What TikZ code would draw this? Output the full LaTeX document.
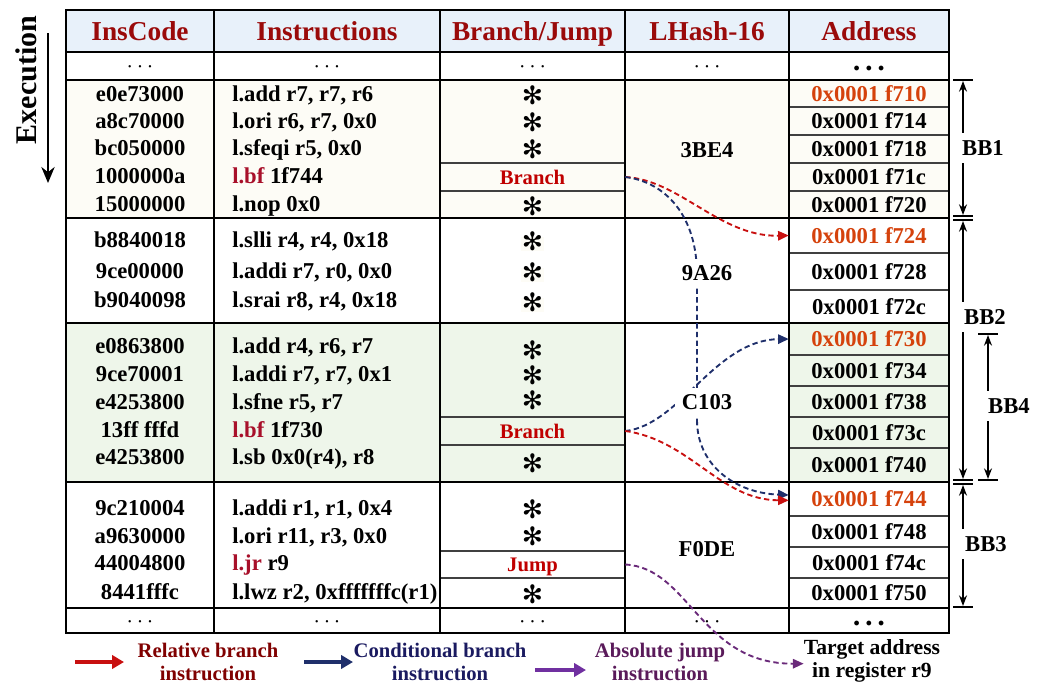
\documentclass[tikz,border=0pt]{standalone}
\usepackage{fontspec}
\setmainfont{Liberation Serif}
\newfontfamily\symfont{DejaVu Sans}
\usetikzlibrary{arrows.meta}
\definecolor{hdrbg}{HTML}{E8F1FA}
\definecolor{creambg}{HTML}{FDFCF6}
\definecolor{greenbg}{HTML}{EEF6EA}
\definecolor{hdrred}{HTML}{9A0A0A}
\definecolor{brred}{HTML}{C00000}
\definecolor{insred}{HTML}{A8102A}
\definecolor{addrorange}{HTML}{D5420C}
\definecolor{arrred}{HTML}{C81010}
\definecolor{arrblue}{HTML}{1F2F6B}
\definecolor{arrpurple}{HTML}{6A2A7A}
\definecolor{legred}{HTML}{800000}
\definecolor{legblue}{HTML}{1A1A60}
\definecolor{legpurple}{HTML}{5A1A5A}
\definecolor{legpurplearr}{HTML}{7030A0}
\definecolor{gridgray}{HTML}{404040}
\newcommand\bodyf{\fontsize{17}{20}\selectfont\bfseries}
\newcommand\hdrf{\fontsize{20.5}{24}\selectfont\bfseries}
\newcommand\legf{\fontsize{15.5}{17.3}\selectfont\bfseries}
\newcommand\tgtf{\fontsize{16.2}{17.3}\selectfont\bfseries}
\newcommand\brf{\fontsize{15.5}{18}\selectfont\bfseries}
\newcommand\execf{\fontsize{22.5}{26}\selectfont\bfseries}
\newcommand\myast{✻}
\newcommand\addrnode[5]{\pgfmathsetmacro\ah{(#3-#2)*0.75}\node[addr, minimum height=\ah pt, text=#4] (#1) at (869,{(#2+#3)/2}) {#5};}
\begin{document}
\begin{tikzpicture}[x=0.75pt,y=-0.75pt,
  txt/.style={font=\bodyf, inner sep=0pt, text height=11.5pt, text depth=0pt},
  hdr/.style={font=\hdrf, text=hdrred, inner sep=0pt, text height=13.8pt, text depth=0pt},
  ins/.style={txt, anchor=west},
  ast/.style={inner sep=0.5pt, font=\symfont\fontsize{19}{19}\selectfont, text height=10pt, text depth=0pt, yshift=-3pt},
  addr/.style={font=\bodyf, inner sep=0pt, text height=11.5pt, text depth=0pt, minimum width=120pt},
  brcell/.style={font=\brf, text=brred, inner sep=0pt, text height=10.5pt, text depth=0pt, minimum width=138.75pt},
  hash/.style={font=\bodyf, inner sep=0pt, text height=11.5pt, text depth=0pt},
  gridk/.style={line width=1.5pt, black},
  gridg/.style={line width=1.1pt, gridgray},
  dts/.style={inner sep=0pt, font=\bodyf, text height=3pt, text depth=0pt},
  bblab/.style={font=\bodyf, inner xsep=0pt, inner ysep=5.6pt, text height=11pt, text depth=0pt},
  bbarr/.style={line width=1pt, -{Stealth[length=8pt,width=6pt]}},
  tick/.style={line width=1pt},
  flow/.style={dashed, dash pattern=on 4pt off 2.5pt, line width=1.4pt, -{Triangle[length=8pt,width=7pt]}},
  leg/.style={line width=2.4pt, -{Triangle[length=9pt,width=10pt]}},
  legtext/.style={font=\legf, align=center, inner sep=0pt}
]
\useasboundingbox (0,0) rectangle (1046,686);

% backgrounds
\fill[hdrbg] (66,10) rectangle (949,52);
\fill[creambg] (66,80) rectangle (949,218);
\fill[greenbg] (66,323) rectangle (625,482);
\fill[greenbg] (789,323) rectangle (949,482);

% thin grid lines (address cells)
\foreach \yy in {107,135,163,191,253,290,355,386,417,448,516,547,578}
  \draw[gridg] (789,\yy) -- (949,\yy);
\foreach \yy in {163,191,417,445,551,578}
  \draw[gridg] (440,\yy) -- (625,\yy);

% thick grid lines
\foreach \yy in {52,80,218,323,482,608}
  \draw[gridk] (66,\yy) -- (949,\yy);
\foreach \xx in {214,440,625,789}
  \draw[gridk] (\xx,10) -- (\xx,633);
\draw[gridk] (66,10) rectangle (949,633);

% header
\node[hdr] (h1) at (140,31) {InsCode};
\node[hdr] (h2) at (327,31) {Instructions};
\node[hdr] (h3) at (532.5,31) {Branch/Jump};
\node[hdr] (h4) at (707,31) {LHash-16};
\node[hdr] (h5) at (869,31) {Address};

% dots rows
\foreach \xx/\nm in {140/a,327/b,532.5/c,707/d}{
  \node[dts] (dt\nm) at (\xx,70) {$\cdots$};
  \node[dts] (db\nm) at (\xx,625) {$\cdots$};
}
\node[dts] (dte) at (869,69) {\fontsize{9}{9}\selectfont$\bullet\;\bullet\;\bullet$};
\node[dts] (dbe) at (869,624) {\fontsize{9}{9}\selectfont$\bullet\;\bullet\;\bullet$};

% BB1
\node[txt] (c1a) at (140,94) {e0e73000};
\node[txt] (c1b) at (140,121) {a8c70000};
\node[txt] (c1c) at (140,148) {bc050000};
\node[txt] (c1d) at (140,176) {1000000a};
\node[txt] (c1e) at (140,204) {15000000};
\node[ins] (i1a) at (232,94) {l.add r7, r7, r6};
\node[ins] (i1b) at (232,121) {l.ori r6, r7, 0x0};
\node[ins] (i1c) at (232,148) {l.sfeqi r5, 0x0};
\node[ins] (i1d) at (232,176) {{\color{insred}l.bf} 1f744};
\node[ins] (i1e) at (232,204) {l.nop 0x0};
\node[ast] (s1a) at (532.5,94) {\myast};
\node[ast] (s1b) at (532.5,121) {\myast};
\node[ast] (s1c) at (532.5,148) {\myast};
\node[brcell, minimum height=21pt] (br1) at (532.5,177) {Branch};
\node[ast] (s1e) at (532.5,205) {\myast};

% BB2
\node[txt] (c2a) at (140,240) {b8840018};
\node[txt] (c2b) at (140,271) {9ce00000};
\node[txt] (c2c) at (140,300) {b9040098};
\node[ins] (i2a) at (232,240) {l.slli r4, r4, 0x18};
\node[ins] (i2b) at (232,271) {l.addi r7, r0, 0x0};
\node[ins] (i2c) at (232,300) {l.srai r8, r4, 0x18};
\node[ast, fill=creambg] (s2a) at (532.5,240) {\myast};
\node[ast, fill=creambg] (s2b) at (532.5,271) {\myast};
\node[ast, fill=creambg] (s2c) at (532.5,301) {\myast};

% BB4
\node[txt] (c4a) at (140,346) {e0863800};
\node[txt] (c4b) at (140,374) {9ce70001};
\node[txt] (c4c) at (140,402) {e4253800};
\node[txt] (c4d) at (140,430) {13ff fffd};
\node[txt] (c4e) at (140,457) {e4253800};
\node[ins] (i4a) at (232,346) {l.add r4, r6, r7};
\node[ins] (i4b) at (232,374) {l.addi r7, r7, 0x1};
\node[ins] (i4c) at (232,402) {l.sfne r5, r7};
\node[ins] (i4d) at (232,430) {{\color{insred}l.bf} 1f730};
\node[ins] (i4e) at (232,457) {l.sb 0x0(r4), r8};
\node[ast] (s4a) at (532.5,349) {\myast};
\node[ast] (s4b) at (532.5,374) {\myast};
\node[ast] (s4c) at (532.5,399) {\myast};
\node[brcell, minimum height=21pt] (br2) at (532.5,431) {Branch};
\node[ast] (s4e) at (532.5,462) {\myast};

% BB3
\node[txt] (c3a) at (140,508) {9c210004};
\node[txt] (c3b) at (140,536) {a9630000};
\node[txt] (c3c) at (140,563) {44004800};
\node[txt] (c3d) at (140,592) {8441fffc};
\node[ins] (i3a) at (232,508) {l.addi r1, r1, 0x4};
\node[ins] (i3b) at (232,536) {l.ori r11, r3, 0x0};
\node[ins] (i3c) at (232,563) {{\color{insred}l.jr} r9};
\node[ins] (i3d) at (232,592) {l.lwz r2, 0xfffffffc(r1)};
\node[ast] (s3a) at (532.5,508) {\myast};
\node[ast] (s3b) at (532.5,535) {\myast};
\node[brcell, minimum height=20.25pt] (jmp) at (532.5,564.5) {Jump};
\node[ast] (s3d) at (532.5,593) {\myast};

% addresses
\addrnode{a710}{80}{107}{addrorange}{0x0001 f710}
\addrnode{a714}{107}{135}{black}{0x0001 f714}
\addrnode{a718}{135}{163}{black}{0x0001 f718}
\addrnode{a71c}{163}{191}{black}{0x0001 f71c}
\addrnode{a720}{191}{218}{black}{0x0001 f720}
\addrnode{a724}{218}{253}{addrorange}{0x0001 f724}
\addrnode{a728}{253}{290}{black}{0x0001 f728}
\addrnode{a72c}{290}{323}{black}{0x0001 f72c}
\addrnode{a730}{323}{355}{addrorange}{0x0001 f730}
\addrnode{a734}{355}{386}{black}{0x0001 f734}
\addrnode{a738}{386}{417}{black}{0x0001 f738}
\addrnode{a73c}{417}{448}{black}{0x0001 f73c}
\addrnode{a740}{448}{482}{black}{0x0001 f740}
\addrnode{a744}{482}{516}{addrorange}{0x0001 f744}
\addrnode{a748}{516}{547}{black}{0x0001 f748}
\addrnode{a74c}{547}{578}{black}{0x0001 f74c}
\addrnode{a750}{578}{608}{black}{0x0001 f750}

% flow arrows
\draw[flow, arrred] (br1.east) .. controls (680,180) and (720,237) .. (a724.west);
\draw[flow, arrblue, -] (br1.east) .. controls (665,182) and (697,215) .. (697,275) -- (697,420);
\draw[flow, arrblue] (697,420) .. controls (697,465) and (735,493) .. ([yshift=3pt]a744.west);
\draw[flow, arrblue] (br2.east) .. controls (680,425) and (715,340) .. (a730.west);
\draw[flow, arrred] (br2.east) .. controls (690,440) and (720,500) .. ([yshift=-1pt]a744.west);

% hashes (on top of the arrows)
\node[hash] (hs1) at (707,150) {3BE4};
\node[hash, fill=white, inner sep=5pt] (hs2) at (707,273) {9A26};
\node[hash, fill=white, inner sep=5pt] (hs3) at (707,402) {C103};
\node[hash] (hs4) at (707,549) {F0DE};

% target
\node[font=\tgtf, align=center, inner sep=0pt] (tgt) at (872,661) {Target address\\in register r9};
\draw[flow, arrpurple] (jmp.east) .. controls (690,568) and (700,664) .. ([yshift=-2pt]tgt.west);

% execution
\node[font=\execf, rotate=90, inner sep=0pt] (exec) at (26,80) {Execution};
\coordinate (e1) at (48,33);
\coordinate (e2) at (48,183);
\draw[line width=1.6pt, -{Stealth[length=12pt,width=10pt]}] (e1) -- (e2);

% BB brackets
\draw[tick] (953,80) -- (973,80);
\draw[tick] (953,216) -- (973,216);
\draw[tick] (953,220) -- (973,220);
\draw[tick] (953,480) -- (973,480);
\draw[tick] (953,484) -- (973,484);
\draw[tick] (953,607) -- (973,607);
\draw[tick] (978,334) -- (998,334);
\draw[tick] (978,480) -- (998,480);
\coordinate (x1) at (963,0);
\coordinate (x4) at (988,0);
\node[bblab] (bb1) at (983,148) {BB1};
\node[bblab] (bb2) at (985,317) {BB2};
\node[bblab] (bb4) at (1009,406) {BB4};
\node[bblab] (bb3) at (986,544) {BB3};
\draw[bbarr] (bb1.north -| x1) -- (963,81);
\draw[bbarr] (bb1.south -| x1) -- (963,215);
\draw[bbarr] (bb2.north -| x1) -- (963,221);
\draw[bbarr] (bb2.south -| x1) -- (963,479);
\draw[bbarr] (bb4.north -| x4) -- (988,335);
\draw[bbarr] (bb4.south -| x4) -- (988,479);
\draw[bbarr] (bb3.north -| x1) -- (963,485);
\draw[bbarr] (bb3.south -| x1) -- (963,606);

% legend
\coordinate (l1a) at (75,662);  \coordinate (l1b) at (124,662);
\coordinate (l2a) at (304,662); \coordinate (l2b) at (353,662);
\coordinate (l3a) at (535,670); \coordinate (l3b) at (586,670);
\draw[leg, arrred] (l1a) -- (l1b);
\draw[leg, arrblue] (l2a) -- (l2b);
\draw[leg, legpurplearr] (l3a) -- (l3b);
\node[legtext, text=legred] (lt1) at (208,662) {Relative branch\\instruction};
\node[legtext, text=legblue] (lt2) at (440,662) {Conditional branch\\instruction};
\node[legtext, text=legpurple] (lt3) at (660,662) {Absolute jump\\instruction};
\end{tikzpicture}
\end{document}
